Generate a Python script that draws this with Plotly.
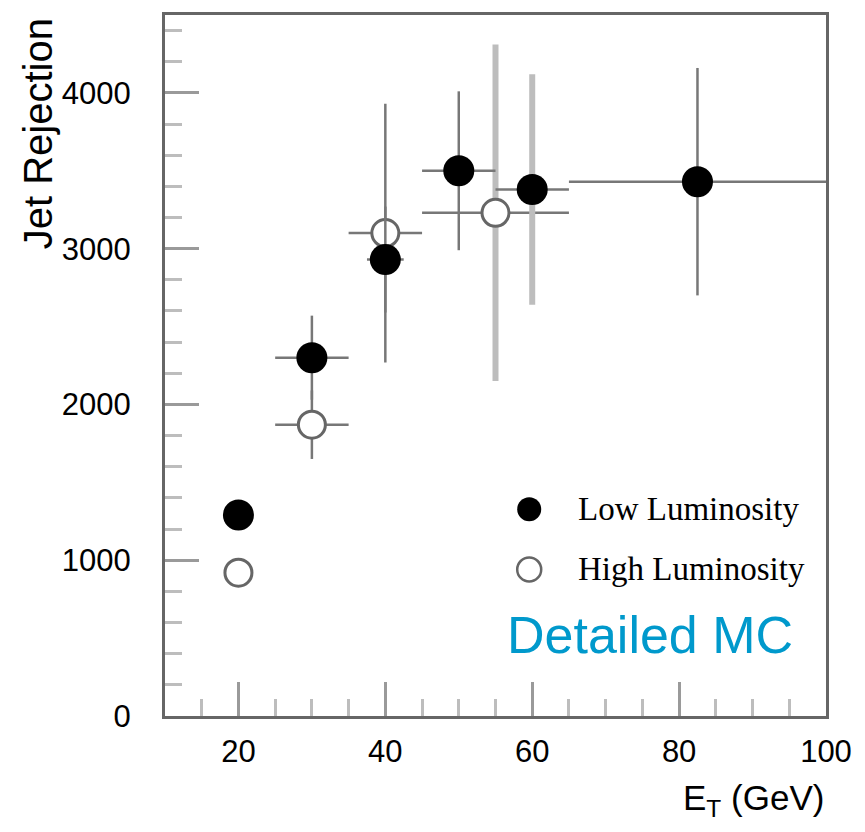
import plotly.graph_objects as go

# ---- data ----
low_x = [20, 30, 40, 50, 60, 82.5]
low_y = [1290, 2300, 2930, 3500, 3380, 3430]
low_xerr = [0, 5, 2.5, 5, 5, 17.5]
low_yerr = [0, 270, 340, 510, 740, 730]
low_light_idx = [4]          # points whose vertical error bar is drawn light grey

high_x = [20, 30, 40, 55]
high_y = [920, 1870, 3100, 3230]
high_xerr = [0, 5, 5, 10]
high_yerr = [0, 220, 830, 1080]
high_light_idx = [3]

x_range = [10, 100]
y_range = [0, 4500]

DARK = "#777777"
LIGHT = "#bdbdbd"

fig = go.Figure()


def add_err(xs, ys, xe, ye, light):
    dark_i = [i for i in range(len(xs)) if i not in light]
    light_i = list(light)
    # horizontal bars (all dark)
    fig.add_trace(go.Scatter(
        x=xs, y=ys, mode="markers", marker=dict(size=1, color="rgba(0,0,0,0)"),
        error_x=dict(type="data", array=xe, color=DARK, thickness=2.5, width=0),
        showlegend=False, hoverinfo="skip"))
    # dark vertical bars
    fig.add_trace(go.Scatter(
        x=[xs[i] for i in dark_i], y=[ys[i] for i in dark_i], mode="markers",
        marker=dict(size=1, color="rgba(0,0,0,0)"),
        error_y=dict(type="data", array=[ye[i] for i in dark_i], color=DARK, thickness=2.5, width=0),
        showlegend=False, hoverinfo="skip"))
    # light vertical bars
    if light_i:
        fig.add_trace(go.Scatter(
            x=[xs[i] for i in light_i], y=[ys[i] for i in light_i], mode="markers",
            marker=dict(size=1, color="rgba(0,0,0,0)"),
            error_y=dict(type="data", array=[ye[i] for i in light_i], color=LIGHT, thickness=6, width=0),
            showlegend=False, hoverinfo="skip"))


add_err(high_x, high_y, high_xerr, high_yerr, high_light_idx)
fig.add_trace(go.Scatter(
    x=high_x, y=high_y, mode="markers", name="High Luminosity",
    marker=dict(size=27, color="white", line=dict(color="#666666", width=3)),
    showlegend=False))
add_err(low_x, low_y, low_xerr, low_yerr, low_light_idx)
fig.add_trace(go.Scatter(
    x=low_x, y=low_y, mode="markers", name="Low Luminosity",
    marker=dict(size=31, color="black", line=dict(color="black", width=0)),
    showlegend=False))

# ---- manual legend ----
leg_items = [("Low Luminosity", "black", "black", 0.295),
             ("High Luminosity", "white", "#666666", 0.209)]
for label, fill, line, yp in leg_items:
    fig.add_shape(type="circle", xref="paper", yref="paper",
                  xsizemode="pixel", ysizemode="pixel",
                  xanchor=0.551, yanchor=yp, x0=-12, x1=12, y0=-12, y1=12,
                  fillcolor=fill, line=dict(color=line, width=2.5 if fill == "white" else 0))
    fig.add_annotation(text=label, xref="paper", yref="paper", x=0.622, y=yp,
                       xanchor="left", yanchor="middle", showarrow=False,
                       font=dict(family="Liberation Serif", size=33, color="black"))

fig.add_annotation(text="Detailed MC", xref="paper", yref="paper", x=0.515, y=0.116,
                   xanchor="left", yanchor="middle", showarrow=False,
                   font=dict(family="Liberation Sans", size=52, color="#0099CC"))

fig.add_annotation(text="Jet Rejection", xref="paper", yref="paper", x=-0.192, y=0.83,
                   xanchor="center", yanchor="middle", textangle=-90, showarrow=False,
                   font=dict(family="Liberation Sans", size=40, color="black"))

fig.add_annotation(text="E<sub>T</sub> (GeV)", xref="paper", yref="paper", x=1.0, y=-0.12,
                   xanchor="right", yanchor="middle", showarrow=False,
                   font=dict(family="Liberation Sans", size=35, color="black"))

axis_common = dict(showgrid=False, zeroline=False, showline=True, linecolor="#666666",
                   linewidth=3, mirror=True, ticks="inside", ticklen=34, tickwidth=2.5,
                   tickcolor="#9a9a9a")

fig.update_xaxes(range=x_range, tickmode="linear", tick0=0, dtick=20,
                 tickfont=dict(family="Liberation Sans", size=31, color="black"),
                 ticklabelstandoff=6,
                 minor=dict(ticks="inside", ticklen=17, tickwidth=2.5, tickcolor="#bdbdbd",
                            tickmode="linear", tick0=0, dtick=5),
                 **axis_common)
fig.update_yaxes(range=y_range, tickmode="linear", tick0=0, dtick=1000,
                 tickfont=dict(family="Liberation Sans", size=31, color="black"),
                 ticklabelstandoff=25,
                 minor=dict(ticks="inside", ticklen=17, tickwidth=2.5, tickcolor="#bdbdbd",
                            tickmode="linear", tick0=0, dtick=200),
                 **axis_common)

fig.update_layout(width=865, height=832, margin=dict(l=165, r=39, t=12, b=116),
                  paper_bgcolor="white", plot_bgcolor="white", showlegend=False)

fig.write_html("out.html")
